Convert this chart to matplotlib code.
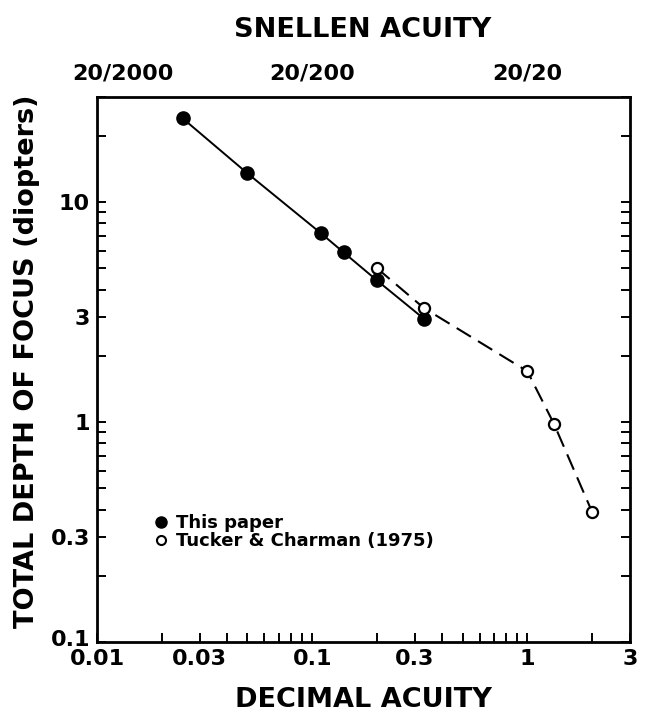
import matplotlib
matplotlib.use('Agg')
import matplotlib.pyplot as plt
from matplotlib.lines import Line2D
from matplotlib.transforms import ScaledTranslation

plt.rcParams['font.family'] = 'DejaVu Sans'
plt.rcParams['font.weight'] = 'bold'

# data (decimal acuity vs total depth of focus in diopters)
this_paper_acuity = [0.025, 0.05, 0.11, 0.14, 0.2, 0.33]
this_paper_dof = [24, 13.5, 7.2, 5.9, 4.4, 2.95]
tucker_acuity = [0.2, 0.33, 1.0, 1.33, 2.0]
tucker_dof = [5.0, 3.3, 1.7, 0.98, 0.39]

x_ticks = [0.01, 0.02, 0.03, 0.04, 0.05, 0.06, 0.07, 0.08, 0.09,
           0.1, 0.2, 0.3, 0.4, 0.5, 0.6, 0.7, 0.8, 0.9, 1, 2, 3]
x_labels = {0.01: '0.01', 0.03: '0.03', 0.1: '0.1', 0.3: '0.3', 1: '1', 3: '3'}
y_ticks = [0.1, 0.2, 0.3, 0.4, 0.5, 0.6, 0.7, 0.8, 0.9,
           1, 2, 3, 4, 5, 6, 7, 8, 9, 10, 20, 30]
y_labels = {0.1: '0.1', 0.3: '0.3', 1: '1', 3: '3', 10: '10'}
snellen_pos = [0.01, 0.1, 1]
snellen_labels = ['20/2000', '20/200', '20/20']

fig = plt.figure(figsize=(6.46, 7.28), dpi=100)
ax = fig.add_axes([97/646, 1-642/728, (630-97)/646, (642-97)/728])

ax.plot(this_paper_acuity, this_paper_dof, '-', color='black', lw=1.4,
        marker='o', ms=9.5, mfc='black', mec='black', zorder=3)
ax.plot(tucker_acuity, tucker_dof, color='black', lw=1.5, ls=(0, (8, 4)),
        marker='o', ms=8, mfc='white', mec='black', mew=1.6, zorder=4)

ax.set_xscale('log')
ax.set_yscale('log')
ax.set_xlim(0.01, 3)
ax.set_ylim(0.1, 30)

ax.set_xticks(x_ticks)
ax.set_xticklabels([x_labels.get(t, '') for t in x_ticks])
ax.set_yticks(y_ticks)
ax.set_yticklabels([y_labels.get(t, '') for t in y_ticks])
ax.minorticks_off()
ax.tick_params(which='both', direction='in', length=6.5, width=1.4,
               top=True, right=True, labelsize=16)
ax.tick_params(axis='x', pad=5)
ax.tick_params(axis='y', pad=5)
for s in ax.spines.values():
    s.set_linewidth(2)

# nudge the bottom y label up so it sits clear of "0.01"
lab = ax.get_yticklabels()[0]
lab.set_transform(lab.get_transform() + ScaledTranslation(0, 4/100, fig.dpi_scale_trans))

# snellen scale on top
ax2 = ax.twiny()
ax2.set_xscale('log')
ax2.set_xlim(ax.get_xlim())
ax2.set_xticks(snellen_pos)
ax2.set_xticklabels(snellen_labels)
ax2.minorticks_off()
ax2.tick_params(axis='x', length=0, pad=10, labelsize=16)
for s in ax2.spines.values():
    s.set_visible(False)
lab = ax2.get_xticklabels()[0]
lab.set_transform(lab.get_transform() + ScaledTranslation(26/100, 0, fig.dpi_scale_trans))

fig.text(363/646, 1-30/728, 'SNELLEN ACUITY', ha='center', va='center', fontsize=19.5)
fig.text(363/646, 1-700/728, 'DECIMAL ACUITY', ha='center', va='center', fontsize=19.5)
fig.text(27/646, 1-361/728, 'TOTAL DEPTH OF FOCUS (diopters)', ha='center',
         va='center', rotation=90, fontsize=19.5)

handles = [Line2D([], [], ls='none', marker='o', ms=8, mfc='black', mec='black'),
           Line2D([], [], ls='none', marker='o', ms=6.5, mfc='white', mec='black', mew=1.5)]
ax.legend(handles, ['This paper', 'Tucker & Charman (1975)'], loc='center left',
          bbox_to_anchor=(155/646, 1-532/728), bbox_transform=fig.transFigure,
          frameon=False, handlelength=0.7, handletextpad=0.45, labelspacing=0.0,
          borderpad=0, borderaxespad=0, fontsize=13)

fig.savefig('out.png', dpi=100)
